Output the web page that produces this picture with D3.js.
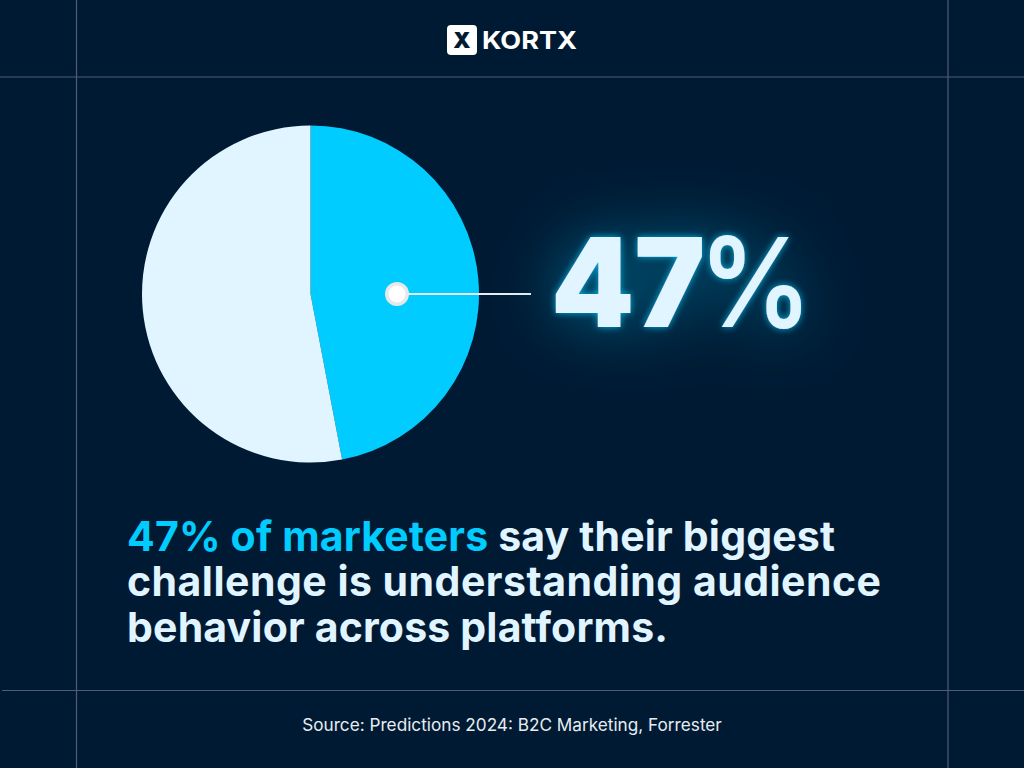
<!DOCTYPE html>
<html lang="en">
<head>
    <meta charset="UTF-8">
    <title>KORTX 47%</title>
    <script src="https://d3js.org/d3.v7.min.js"></script>
    <style>
        html, body { margin: 0; padding: 0; background: #001a33; }
        svg { display: block; }
        text { font-family: Inter, sans-serif; }
        .rule { stroke: #4f5e72; stroke-width: 1.2; }
    </style>
</head>
<body>
    <div id="chart"></div>
    <script>
        const categories = ['Understanding audience behavior', 'Other'];
        const values = [47, 53];
        const colors = ['#00ccff', '#e0f5ff'];
        const bigDigits = '47';
        const bigUnit = '%';
        const headline = [
            [['47% of marketers', '#00ccff'], [' say their biggest', '#e0f5ff']],
            [['challenge is understanding audience', '#e0f5ff']],
            [['behavior across platforms.', '#e0f5ff']]
        ];
        const source = 'Source: Predictions 2024: B2C Marketing, Forrester';

        const width = 1024, height = 768;
        const svg = d3.select('#chart').append('svg')
            .attr('width', width)
            .attr('height', height);

        // cyan glow, one wide and faint, one tight and bright
        const glow = svg.append('defs').append('filter').attr('id', 'glow')
            .attr('filterUnits', 'userSpaceOnUse')
            .attr('x', 420).attr('y', 100).attr('width', 520).attr('height', 380);
        glow.append('feGaussianBlur').attr('in', 'SourceAlpha').attr('stdDeviation', 32).attr('result', 'wideBlur');
        glow.append('feFlood').attr('flood-color', '#00ccff').attr('flood-opacity', 0.5);
        glow.append('feComposite').attr('in2', 'wideBlur').attr('operator', 'in').attr('result', 'wide');
        glow.append('feGaussianBlur').attr('in', 'SourceAlpha').attr('stdDeviation', 3.5).attr('result', 'tightBlur');
        glow.append('feFlood').attr('flood-color', '#00ccff').attr('flood-opacity', 0.85);
        glow.append('feComposite').attr('in2', 'tightBlur').attr('operator', 'in').attr('result', 'tight');
        const merge = glow.append('feMerge');
        merge.append('feMergeNode').attr('in', 'wide');
        merge.append('feMergeNode').attr('in', 'tight');
        merge.append('feMergeNode').attr('in', 'SourceGraphic');

        // frame lines
        svg.append('line').attr('class', 'rule').attr('x1', 0).attr('x2', width).attr('y1', 77).attr('y2', 77);
        svg.append('line').attr('class', 'rule').attr('x1', 2).attr('x2', width).attr('y1', 690.5).attr('y2', 690.5);
        svg.append('line').attr('class', 'rule').attr('x1', 76.5).attr('x2', 76.5).attr('y1', 0).attr('y2', height);
        svg.append('line').attr('class', 'rule').attr('x1', 948).attr('x2', 948).attr('y1', 0).attr('y2', height);

        // logo
        const logo = svg.append('g');
        logo.append('rect').attr('x', 447).attr('y', 25).attr('width', 30).attr('height', 30).attr('rx', 4).attr('fill', '#fff');
        logo.append('text').attr('x', 462).attr('y', 47.5).attr('text-anchor', 'middle')
            .attr('font-size', 22).attr('font-weight', 900).attr('fill', '#001a33').text('X');
        logo.append('text').attr('x', 482).attr('y', 49).attr('font-size', 24.5).attr('font-weight', 700)
            .attr('fill', '#fff').attr('textLength', 95).attr('lengthAdjust', 'spacingAndGlyphs').text('KORTX');

        // pie
        const pie = d3.pie().sort(null)(values);
        const arc = d3.arc().innerRadius(0).outerRadius(168.5);
        svg.append('g').attr('transform', 'translate(310.5,294)')
            .selectAll('path')
            .data(pie)
            .enter().append('path')
            .attr('d', arc)
            .attr('fill', (d, i) => colors[i]);

        // callout
        svg.append('line').attr('x1', 397).attr('x2', 531).attr('y1', 294).attr('y2', 294)
            .attr('stroke', '#e6eef4').attr('stroke-width', 1.8);
        svg.append('circle').attr('cx', 397).attr('cy', 294).attr('r', 12).attr('fill', '#e6e8ea');
        svg.append('circle').attr('cx', 397).attr('cy', 294).attr('r', 8.5).attr('fill', '#fff');

        const big = svg.append('g').attr('filter', 'url(#glow)').attr('fill', '#e0f5ff');
        big.append('text').attr('x', 551).attr('y', 327)
            .attr('font-size', 124).attr('font-weight', 900)
            .attr('textLength', 154).attr('lengthAdjust', 'spacingAndGlyphs')
            .text(bigDigits);
        big.append('text').attr('x', 699).attr('y', 327)
            .attr('font-size', 124).attr('font-weight', 600)
            .attr('textLength', 113).attr('lengthAdjust', 'spacingAndGlyphs')
            .text(bigUnit);

        // headline, each line stretched to the width it has in the picture
        const lineY = [551, 596, 642];
        const lineWidth = [708, 754, 541];
        headline.forEach((runs, i) => {
            const t = svg.append('text').attr('x', 127).attr('y', lineY[i])
                .attr('font-size', 41).attr('font-weight', 650)
                .attr('textLength', lineWidth[i]).attr('lengthAdjust', 'spacing');
            runs.forEach(r => t.append('tspan').attr('fill', r[1]).text(r[0]));
        });

        svg.append('text').attr('x', 512).attr('y', 731).attr('text-anchor', 'middle')
            .attr('font-size', 17.2).attr('fill', '#e6edf2').text(source);
    </script>
</body>
</html>
